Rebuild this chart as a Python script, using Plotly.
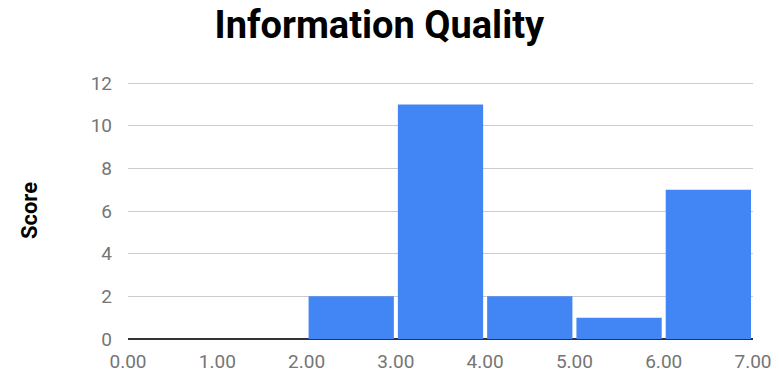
import plotly.graph_objects as go

# Histogram bins (lower edges) and counts per bin
bin_lows = [0, 1, 2, 3, 4, 5, 6]
bin_width = 1
counts = [0, 0, 2, 11, 2, 1, 7]

x_ticks = [0, 1, 2, 3, 4, 5, 6, 7]
x_tick_text = ["0.00", "1.00", "2.00", "3.00", "4.00", "5.00", "6.00", "7.00"]
y_ticks = [0, 2, 4, 6, 8, 10, 12]

centers = [lo + bin_width / 2 for lo in bin_lows]

fig = go.Figure(
    go.Bar(
        x=centers,
        y=counts,
        width=[bin_width * 0.955] * len(centers),
        marker=dict(color="#4285f4", line=dict(width=0)),
        hoverinfo="x+y",
    )
)

fig.update_layout(
    width=779,
    height=381,
    margin=dict(l=128, r=26, t=82, b=42),
    paper_bgcolor="white",
    plot_bgcolor="white",
    showlegend=False,
    font=dict(family="Roboto", color="#757575"),
    title=dict(
        text="<b>Information Quality</b>",
        x=0.487,
        xanchor="center",
        y=0.935,
        yanchor="middle",
        font=dict(family="Roboto", size=38, color="#000000"),
    ),
    xaxis=dict(
        range=[0, 7],
        tickvals=x_ticks,
        ticktext=x_tick_text,
        showgrid=False,
        zeroline=False,
        showline=False,
        ticks="",
        automargin=False,
        ticklabelstandoff=9,
        tickfont=dict(size=19, color="#757575"),
        fixedrange=True,
    ),
    yaxis=dict(
        range=[0, 12.05],
        tickvals=y_ticks,
        showgrid=True,
        gridcolor="#cccccc",
        gridwidth=1,
        zeroline=True,
        zerolinecolor="#333333",
        zerolinewidth=1.5,
        showline=False,
        ticks="",
        automargin=False,
        ticklabelstandoff=15,
        tickfont=dict(size=19, color="#757575"),
        title=dict(
            text="<b>Score</b>",
            font=dict(family="Roboto", size=22, color="#000000"),
            standoff=46,
        ),
        fixedrange=True,
    ),
)

fig.write_html("out.html")
